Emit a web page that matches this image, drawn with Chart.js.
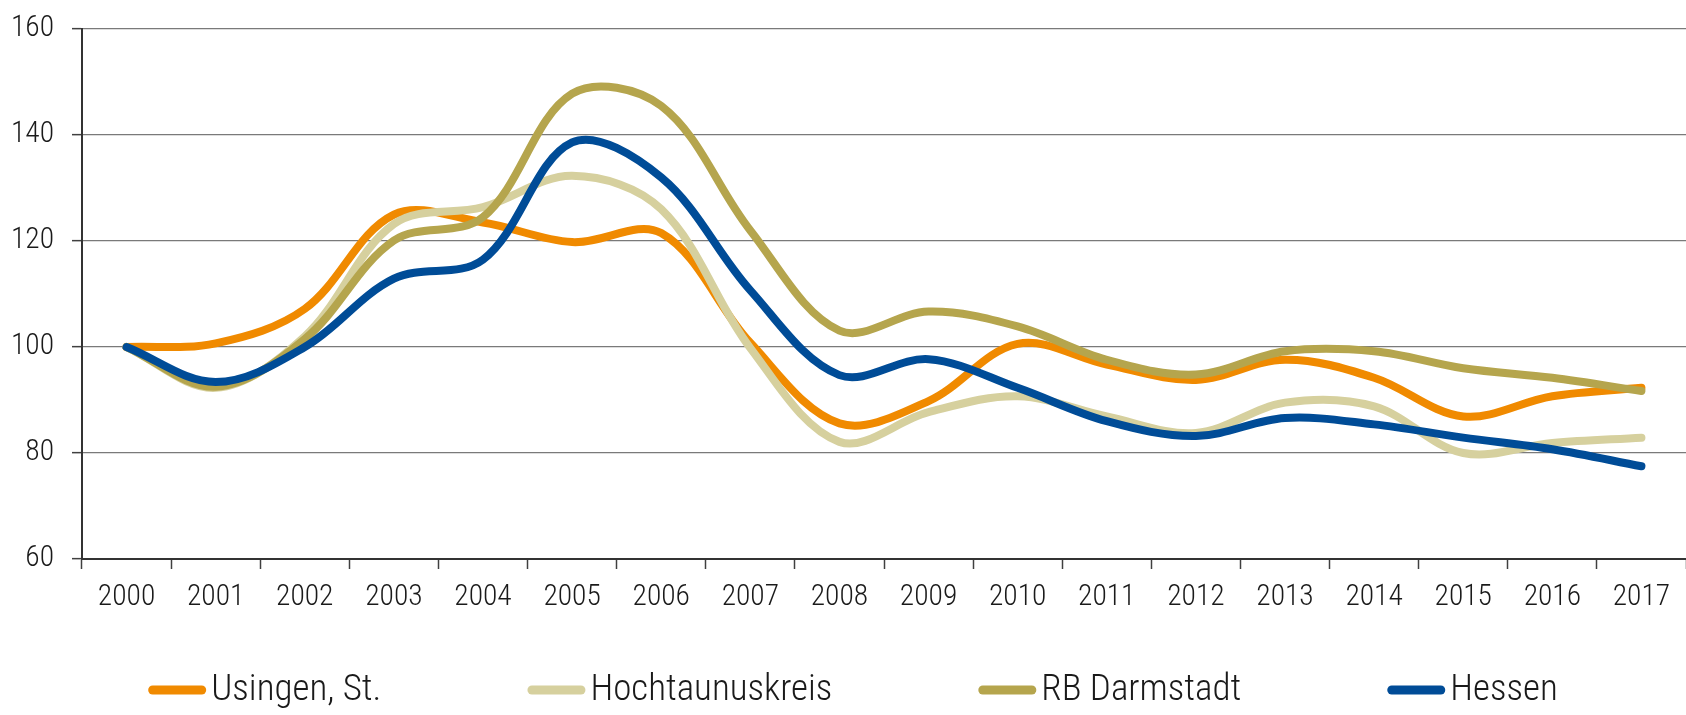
<!DOCTYPE html>
<html>
<head>
<meta charset="utf-8">
<script src="https://cdn.jsdelivr.net/npm/chart.js@4.4.1/dist/chart.umd.min.js"></script>
<style>
  html, body { margin: 0; padding: 0; background: #fff; }
</style>
</head>
<body>
<canvas id="chart_index" width="1686" height="715"></canvas>
<script>
'use strict'
// data (index, 2000 = 100)
let years = ["2000", "2001", "2002", "2003", "2004", "2005", "2006", "2007", "2008",
             "2009", "2010", "2011", "2012", "2013", "2014", "2015", "2016", "2017"];
let usingen = [100, 100.7, 107.2, 125.0, 123.5, 119.8, 121.5, 100.8, 85.6,
               89.8, 100.6, 96.7, 93.8, 97.6, 94.2, 86.9, 90.7, 92.3];
let hochtaunus = [100, 92.3, 102.0, 123.2, 126.4, 132.3, 126.0, 99.8, 82.1,
                  87.7, 90.7, 86.9, 83.8, 89.5, 88.8, 80.0, 81.9, 82.9];
let rbDarmstadt = [100, 92.5, 101.5, 120.1, 124.5, 147.8, 145.5, 122.0, 103.1,
                   106.7, 103.9, 97.6, 94.8, 99.2, 99.2, 96.0, 94.2, 91.7];
let hessen = [100, 93.4, 100.0, 112.9, 116.5, 138.6, 132.0, 110.7, 94.7,
              97.7, 92.3, 86.0, 83.2, 86.6, 85.4, 82.9, 80.7, 77.5];
let seriesNames = ["Usingen, St.", "Hochtaunuskreis", "RB Darmstadt", "Hessen"];
let seriesColors = ["#f08a00", "#d6d09e", "#b5a54d", "#004c97"];
let yTicks = [60, 80, 100, 120, 140, 160];

// light condensed face of Roboto
let fontFamily = "Roboto, sans-serif";
let fontWeight = "300 condensed";

// legend drawn by hand: short line, text, then a fixed gap
let legendPlugin = {
    id: "bottomLegend",
    afterDraw: function (chart) {
        let ctx = chart.ctx;
        ctx.save();
        ctx.font = fontWeight + " 37px " + fontFamily;
        ctx.textBaseline = "middle";
        ctx.textAlign = "left";
        let lineLen = 58;
        let gapText = 5;
        let gapItem = 146;
        let widths = chart.data.datasets.map(function (ds) {
            return lineLen + gapText + ctx.measureText(ds.label).width;
        });
        let total = widths.reduce(function (a, b) { return a + b; }, 0) + gapItem * (widths.length - 1);
        let x = chart.width / 2 + 10 - total / 2;
        let y = 690;
        chart.data.datasets.forEach(function (ds, i) {
            ctx.strokeStyle = ds.borderColor;
            ctx.lineWidth = 9;
            ctx.lineCap = "round";
            ctx.beginPath();
            ctx.moveTo(x + 4.5, y);
            ctx.lineTo(x + lineLen - 4.5, y);
            ctx.stroke();
            ctx.fillStyle = "#1a1a1a";
            ctx.fillText(ds.label, x + lineLen + gapText, y + 1);
            x += widths[i] + gapItem;
        });
        ctx.restore();
    },
};

let allSeries = [usingen, hochtaunus, rbDarmstadt, hessen];
// orange at the bottom, blue on top
let drawOrder = [4, 3, 2, 1];

let chart = new Chart("chart_index", {
    type: "line",
    data: {
        labels: years,
        datasets: allSeries.map(function (values, i) {
            return {
                label: seriesNames[i],
                data: values,
                borderColor: seriesColors[i],
                backgroundColor: seriesColors[i],
                borderWidth: 8,
                borderCapStyle: "round",
                borderJoinStyle: "round",
                pointRadius: 0,
                pointHoverRadius: 0,
                tension: 0.35,
                fill: false,
                order: drawOrder[i],
            };
        }),
    },
    options: {
        responsive: false,
        animation: false,
        layout: {
            padding: { top: 20, right: 0, bottom: 96, left: 0 },
        },
        plugins: {
            legend: { display: false },
            tooltip: { enabled: false },
        },
        scales: {
            x: {
                offset: true,
                grid: {
                    offset: true,
                    drawOnChartArea: false,
                    drawTicks: true,
                    tickLength: 10,
                    tickColor: "#404040",
                    tickWidth: 1.5,
                },
                border: { display: true, color: "#333333", width: 2 },
                ticks: {
                    color: "#1a1a1a",
                    font: { family: fontFamily, size: 29.5, weight: fontWeight },
                    padding: 11,
                    maxRotation: 0,
                    autoSkip: false,
                },
                afterFit: function (scale) {
                    scale.height = 60;
                },
            },
            y: {
                min: yTicks[0],
                max: yTicks[yTicks.length - 1],
                afterBuildTicks: function (scale) {
                    scale.ticks = yTicks.map(function (v) { return { value: v }; });
                },
                grid: {
                    color: "#7a7a7a",
                    lineWidth: 1.3,
                    drawTicks: true,
                    tickLength: 10,
                    tickColor: "#404040",
                    tickWidth: 1.5,
                },
                border: { display: true, color: "#333333", width: 2 },
                ticks: {
                    color: "#1a1a1a",
                    font: { family: fontFamily, size: 29.5, weight: fontWeight, lineHeight: 0.75 },
                    padding: 18,
                },
                afterFit: function (scale) {
                    scale.width = 82;
                },
            },
        },
    },
    plugins: [legendPlugin],
});
</script>
</body>
</html>
